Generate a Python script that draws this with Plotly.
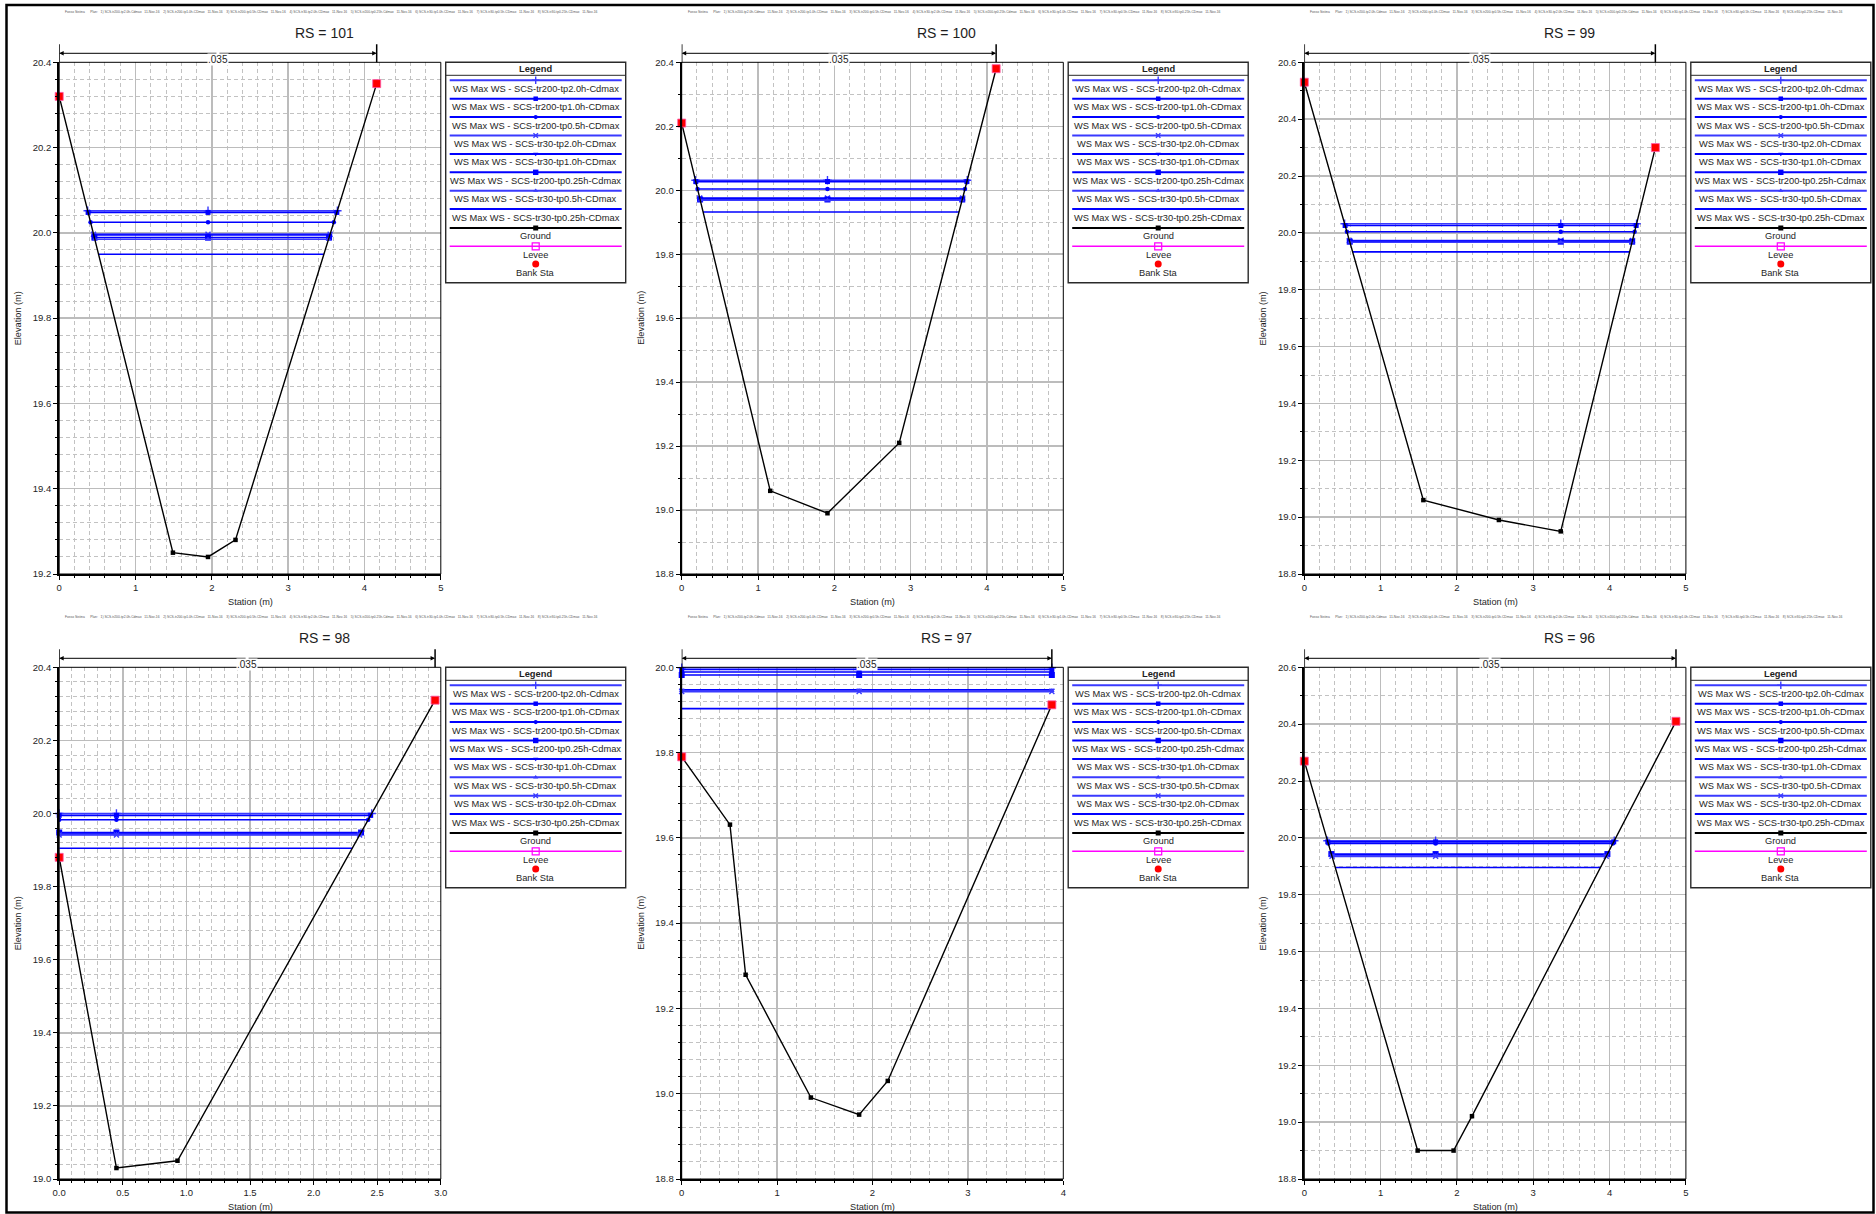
import numpy as np
import plotly.graph_objects as go

W, H = 1876, 1214

# ---------------- data ----------------
rs_labels = ["101", "100", "99", "98", "97", "96"]

sta_101 = [0.0, 1.49, 1.95, 2.31, 4.16]
elev_101 = [20.32, 19.25, 19.24, 19.28, 20.35]
sta_100 = [0.0, 1.16, 1.91, 2.85, 4.12]
elev_100 = [20.21, 19.06, 18.99, 19.21, 20.38]
sta_99 = [0.0, 1.56, 2.55, 3.36, 4.60]
elev_99 = [20.53, 19.06, 18.99, 18.95, 20.30]
sta_98 = [0.0, 0.45, 0.93, 2.955]
elev_98 = [19.88, 19.03, 19.05, 20.31]
sta_97 = [0.0, 0.506, 0.67, 1.354, 1.86, 2.16, 3.88]
elev_97 = [19.79, 19.631, 19.279, 18.991, 18.951, 19.03, 19.912]
sta_96 = [0.0, 1.485, 1.956, 2.197, 4.87]
elev_96 = [20.27, 18.90, 18.90, 19.021, 20.41]

profiles_a = ["SCS-tr200-tp2.0h-Cdmax", "SCS-tr200-tp1.0h-CDmax", "SCS-tr200-tp0.5h-CDmax",
              "SCS-tr30-tp2.0h-CDmax", "SCS-tr30-tp1.0h-CDmax", "SCS-tr200-tp0.25h-Cdmax",
              "SCS-tr30-tp0.5h-CDmax", "SCS-tr30-tp0.25h-CDmax"]
profiles_b = ["SCS-tr200-tp2.0h-Cdmax", "SCS-tr200-tp1.0h-CDmax", "SCS-tr200-tp0.5h-CDmax",
              "SCS-tr200-tp0.25h-Cdmax", "SCS-tr30-tp1.0h-CDmax", "SCS-tr30-tp0.5h-CDmax",
              "SCS-tr30-tp2.0h-CDmax", "SCS-tr30-tp0.25h-CDmax"]

ws_101 = [20.052, 20.048, 20.025, 19.997, 19.995, 19.989, 19.985, 19.950]
ws_100 = [20.031, 20.027, 20.004, 19.976, 19.973, 19.971, 19.969, 19.932]
ws_99 = [20.032, 20.026, 20.004, 19.973, 19.971, 19.969, 19.967, 19.933]
ws_98 = [20.000, 19.995, 19.983, 19.948, 19.945, 19.943, 19.941, 19.905]
ws_97 = [19.999, 19.995, 19.989, 19.982, 19.947, 19.945, 19.943, 19.903]
ws_96 = [19.990, 19.986, 19.980, 19.943, 19.940, 19.937, 19.935, 19.896]

n_value = ".035"
plan_note = ("Fosso Sistina      Plan:   1) SCS-tr200-tp2.0h-Cdmax   11-Nov-16    2) SCS-tr200-tp1.0h-CDmax   11-Nov-16    "
             "3) SCS-tr200-tp0.5h-CDmax   11-Nov-16    4) SCS-tr30-tp2.0h-CDmax   11-Nov-16    5) SCS-tr200-tp0.25h-Cdmax   11-Nov-16    "
             "6) SCS-tr30-tp1.0h-CDmax   11-Nov-16    7) SCS-tr30-tp0.5h-CDmax   11-Nov-16    8) SCS-tr30-tp0.25h-CDmax   11-Nov-16")

panels = [
    (sta_101, elev_101, ws_101, profiles_a),
    (sta_100, elev_100, ws_100, profiles_a),
    (sta_99, elev_99, ws_99, profiles_a),
    (sta_98, elev_98, ws_98, profiles_b),
    (sta_97, elev_97, ws_97, profiles_b),
    (sta_96, elev_96, ws_96, profiles_b),
]

# axis settings: (x range, x dtick, x minor, x format, y range, y dtick, y minor)
axis_cfg = [
    ([0, 5], 1, 0.2, "", [19.2, 20.4], 0.2, 0.04),
    ([0, 5], 1, 0.2, "", [18.8, 20.4], 0.2, 0.1),
    ([0, 5], 1, 0.2, "", [18.8, 20.6], 0.2, 0.1),
    ([0, 3], 0.5, 0.1, ".1f", [19.0, 20.4], 0.2, 0.04),
    ([0, 4], 1, 0.2, "", [18.8, 20.0], 0.2, 0.04),
    ([0, 5], 1, 0.2, "", [18.8, 20.6], 0.2, 0.1),
]

# ---------------- styles ----------------
FONT = "Liberation Sans, Arial, sans-serif"
TXT = "#1e1e1e"
GRID = "#bcbcbc"
GRID2 = "#c2c2c2"
BLUE = "#0000ff"
sym_style = {
    "SCS-tr200-tp2.0h-Cdmax": dict(symbol="cross-thin", size=6, color="#3a3aff"),
    "SCS-tr200-tp1.0h-CDmax": dict(symbol="square", size=5, color=BLUE),
    "SCS-tr200-tp0.5h-CDmax": dict(symbol="circle", size=4.5, color=BLUE),
    "SCS-tr30-tp2.0h-CDmax": dict(symbol="x-thin", size=5, color="#3a3aff"),
    "SCS-tr30-tp1.0h-CDmax": dict(symbol="triangle-down", size=5, color=BLUE),
    "SCS-tr200-tp0.25h-Cdmax": dict(symbol="square", size=6, color=BLUE),
    "SCS-tr30-tp0.5h-CDmax": dict(symbol="triangle-up", size=5, color="#3a3aff"),
    "SCS-tr30-tp0.25h-CDmax": dict(symbol=None, size=0, color=BLUE),
}

COL_LEFT = [59.2, 681.7, 1304.3]
ROW_TOP = [62.3, 667.3]
PW, PH = 381.6, 511.7
LEG_W, LEG_H = 180.0, 220.4


def fx(px):
    return px / W


def fy(py):
    return 1 - py / H


def wet_limits(sta, elev, h):
    sta = np.asarray(sta, float)
    elev = np.asarray(elev, float)
    m = int(np.argmin(elev))
    xl = sta[0]
    for i in range(m, 0, -1):
        if elev[i - 1] >= h:
            xl = sta[i - 1] + (sta[i] - sta[i - 1]) * (elev[i - 1] - h) / (elev[i - 1] - elev[i])
            break
    xr = sta[-1]
    for i in range(m, len(sta) - 1):
        if elev[i + 1] >= h:
            xr = sta[i] + (sta[i + 1] - sta[i]) * (h - elev[i]) / (elev[i + 1] - elev[i])
            break
    return xl, xr


def marker_dict(st, scale=1.0):
    if st["symbol"] is None:
        return dict(size=0.1, opacity=0)
    thin = st["symbol"].endswith("thin")
    return dict(symbol=st["symbol"], size=st["size"] * scale, color=st["color"],
                line=dict(width=1.4 if thin else 0, color=st["color"]))


fig = go.Figure()
layout_axes = {}
annotations = []
shapes = []
lf = dict(size=9.3, color=TXT, family=FONT)

for k, (sta, elev, ws, profs) in enumerate(panels):
    r, c = divmod(k, 3)
    L, T = COL_LEFT[c], ROW_TOP[r]
    xr_, xd, xm, xf, yr_, yd, ym = axis_cfg[k]
    sx = "" if k == 0 else str(k + 1)
    xref, yref = "x" + sx, "y" + sx

    common = dict(showgrid=True, gridcolor=GRID, gridwidth=1.4, zeroline=False,
                  showline=True, linecolor="black", linewidth=2, ticks="outside",
                  ticklen=4, tickcolor="black", tickwidth=1, automargin=False,
                  tickfont=dict(size=9.5, color=TXT, family=FONT), fixedrange=True)
    minor = dict(tick0=0, showgrid=True, gridcolor=GRID2, griddash="4px,3px",
                 gridwidth=1, ticks="outside", ticklen=2, tickcolor="black")
    layout_axes["xaxis" + sx] = dict(
        domain=[fx(L), fx(L + PW)], range=xr_, anchor=yref, dtick=xd, tick0=0,
        tickformat=xf, minor=dict(dtick=xm, **minor), **common)
    layout_axes["yaxis" + sx] = dict(
        domain=[fy(T + PH), fy(T)], range=yr_, anchor=xref, dtick=yd, tick0=0,
        tickformat=".1f", minor=dict(dtick=ym, **minor), **common)

    # water surfaces
    emin = min(elev)
    mid = float(np.mean([s for s, e in zip(sta, elev) if e == emin]))
    for name, h in zip(profs, ws):
        st = sym_style[name]
        xl, xr = wet_limits(sta, elev, h)
        fig.add_trace(go.Scatter(
            x=[xl, mid, xr], y=[h, h, h], xaxis=xref, yaxis=yref,
            mode="lines" if st["symbol"] is None else "lines+markers",
            line=dict(color=st["color"], width=1.6), marker=marker_dict(st),
            cliponaxis=False, hoverinfo="skip", showlegend=False))
    # ground
    fig.add_trace(go.Scatter(
        x=sta, y=elev, xaxis=xref, yaxis=yref, mode="lines+markers",
        line=dict(color="black", width=1.4), marker=dict(symbol="square", size=4.5, color="black"),
        cliponaxis=False, hoverinfo="skip", showlegend=False))
    # bank stations
    fig.add_trace(go.Scatter(
        x=[sta[0], sta[-1]], y=[elev[0], elev[-1]], xaxis=xref, yaxis=yref, mode="markers",
        marker=dict(symbol="square", size=8, color="#ff0000", line=dict(width=0.8, color="#ff55aa")),
        cliponaxis=False, hoverinfo="skip", showlegend=False))

    # thin frame
    shapes.append(dict(type="rect", xref=xref + " domain", yref=yref + " domain",
                       x0=0, x1=1, y0=0, y1=1, line=dict(color="black", width=1)))
    # Manning n bar
    ybar = 1 + 9 / PH
    ytop = 1 + 18 / PH
    for xv in (sta[0], sta[-1]):
        shapes.append(dict(type="line", xref=xref, yref=yref + " domain", x0=xv, x1=xv,
                           y0=1, y1=ytop, line=dict(color="black", width=1.5)))
    xmid = (sta[0] + sta[-1]) / 2
    for xv in (sta[0], sta[-1]):
        annotations.append(dict(x=xv, y=ybar, xref=xref, yref=yref + " domain",
                                ax=xmid, ay=ybar, axref=xref, ayref=yref + " domain",
                                text="", showarrow=True, arrowhead=2, arrowsize=0.9,
                                arrowwidth=1, arrowcolor="black"))
    annotations.append(dict(x=xmid, y=ybar, xref=xref, yref=yref + " domain", text=n_value,
                            showarrow=False, bgcolor="white", borderpad=0,
                            font=dict(size=10, color=TXT, family=FONT)))

    # titles
    annotations.append(dict(x=fx(L + 265), y=fy(T - 29), xref="paper", yref="paper",
                            text="RS = " + rs_labels[k], showarrow=False, xanchor="center",
                            yanchor="middle", font=dict(size=14, color=TXT, family=FONT)))
    annotations.append(dict(x=fx(L + PW / 2), y=fy(T + PH + 27.7), xref="paper",
                            yref="paper", text="Station (m)", showarrow=False,
                            xanchor="center", yanchor="middle",
                            font=dict(size=9.2, color=TXT, family=FONT)))
    annotations.append(dict(x=fx(L - 41), y=fy(T + PH / 2), xref="paper", yref="paper",
                            text="Elevation (m)", showarrow=False, textangle=-90,
                            xanchor="center", yanchor="middle",
                            font=dict(size=9.2, color=TXT, family=FONT)))
    annotations.append(dict(x=fx(L + 4), y=fy(T - 50), xref="paper", yref="paper",
                            text=plan_note, showarrow=False, xanchor="left", yanchor="middle",
                            font=dict(size=3.3, color="#555555", family=FONT)))

    # legend box (pixel overlay axes x7/y7)
    LL = L + PW + 4.9
    shapes.append(dict(type="rect", xref="x7", yref="y7", x0=LL, x1=LL + LEG_W, y0=T,
                       y1=T + LEG_H, line=dict(color="#2a2a2a", width=1.4)))
    shapes.append(dict(type="line", xref="x7", yref="y7", x0=LL, x1=LL + LEG_W, y0=T + 13,
                       y1=T + 13, line=dict(color="#2a2a2a", width=1)))
    annotations.append(dict(x=LL + LEG_W / 2, y=T + 6.5, xref="x7", yref="y7",
                            text="<b>Legend</b>", showarrow=False, font=lf))
    cx = LL + LEG_W / 2
    for i, name in enumerate(profs):
        st = sym_style[name]
        yl = T + 18 + i * 18.4
        shapes.append(dict(type="line", xref="x7", yref="y7", x0=LL + 4, x1=LL + LEG_W - 4,
                           y0=yl, y1=yl, line=dict(color=st["color"], width=2)))
        if st["symbol"] is not None:
            fig.add_trace(go.Scatter(x=[cx], y=[yl], xaxis="x7", yaxis="y7", mode="markers",
                                     marker=marker_dict(st, 0.9), hoverinfo="skip",
                                     showlegend=False, cliponaxis=False))
        annotations.append(dict(x=cx, y=yl + 8.4, xref="x7", yref="y7",
                                text="WS Max WS - " + name, showarrow=False, font=lf))
    yg = T + 165.7
    shapes.append(dict(type="line", xref="x7", yref="y7", x0=LL + 4, x1=LL + LEG_W - 4,
                       y0=yg, y1=yg, line=dict(color="black", width=2)))
    fig.add_trace(go.Scatter(x=[cx], y=[yg], xaxis="x7", yaxis="y7", mode="markers",
                             marker=dict(symbol="square", size=5, color="black"),
                             hoverinfo="skip", showlegend=False, cliponaxis=False))
    annotations.append(dict(x=cx, y=yg + 8, xref="x7", yref="y7", text="Ground",
                            showarrow=False, font=lf))
    yv = T + 184
    shapes.append(dict(type="line", xref="x7", yref="y7", x0=LL + 4, x1=LL + LEG_W - 4,
                       y0=yv, y1=yv, line=dict(color="#ff00ff", width=1.5)))
    fig.add_trace(go.Scatter(x=[cx], y=[yv], xaxis="x7", yaxis="y7", mode="markers",
                             marker=dict(symbol="square-open", size=7, color="#ff00ff",
                                         line=dict(width=1.2, color="#ff00ff")),
                             hoverinfo="skip", showlegend=False, cliponaxis=False))
    annotations.append(dict(x=cx, y=yv + 8.7, xref="x7", yref="y7", text="Levee",
                            showarrow=False, font=lf))
    yb = T + 201.7
    fig.add_trace(go.Scatter(x=[cx], y=[yb], xaxis="x7", yaxis="y7", mode="markers",
                             marker=dict(symbol="circle", size=7, color="#ff0000"),
                             hoverinfo="skip", showlegend=False, cliponaxis=False))
    annotations.append(dict(x=cx, y=yb + 8.7, xref="x7", yref="y7", text="Bank Sta",
                            showarrow=False, font=lf))

layout_axes["xaxis7"] = dict(domain=[0, 1], range=[0, W], anchor="y7", visible=False,
                             fixedrange=True, automargin=False)
layout_axes["yaxis7"] = dict(domain=[0, 1], range=[H, 0], anchor="x7", visible=False,
                             fixedrange=True, automargin=False)

# outer border
shapes.append(dict(type="rect", xref="paper", yref="paper", x0=6.5 / W, x1=1873.5 / W,
                   y0=1 - 1212.5 / H, y1=1 - 5 / H, line=dict(color="black", width=2.5)))

fig.update_layout(
    width=W, height=H, margin=dict(l=0, r=0, t=0, b=0, pad=0, autoexpand=False),
    paper_bgcolor="white", plot_bgcolor="rgba(0,0,0,0)",
    showlegend=False, font=dict(family=FONT, color=TXT),
    annotations=annotations, shapes=shapes, **layout_axes)

fig.write_html("out.html", config={"displayModeBar": False, "staticPlot": True},
               post_script="document.body.style.margin='0';document.body.style.overflow='hidden';")
